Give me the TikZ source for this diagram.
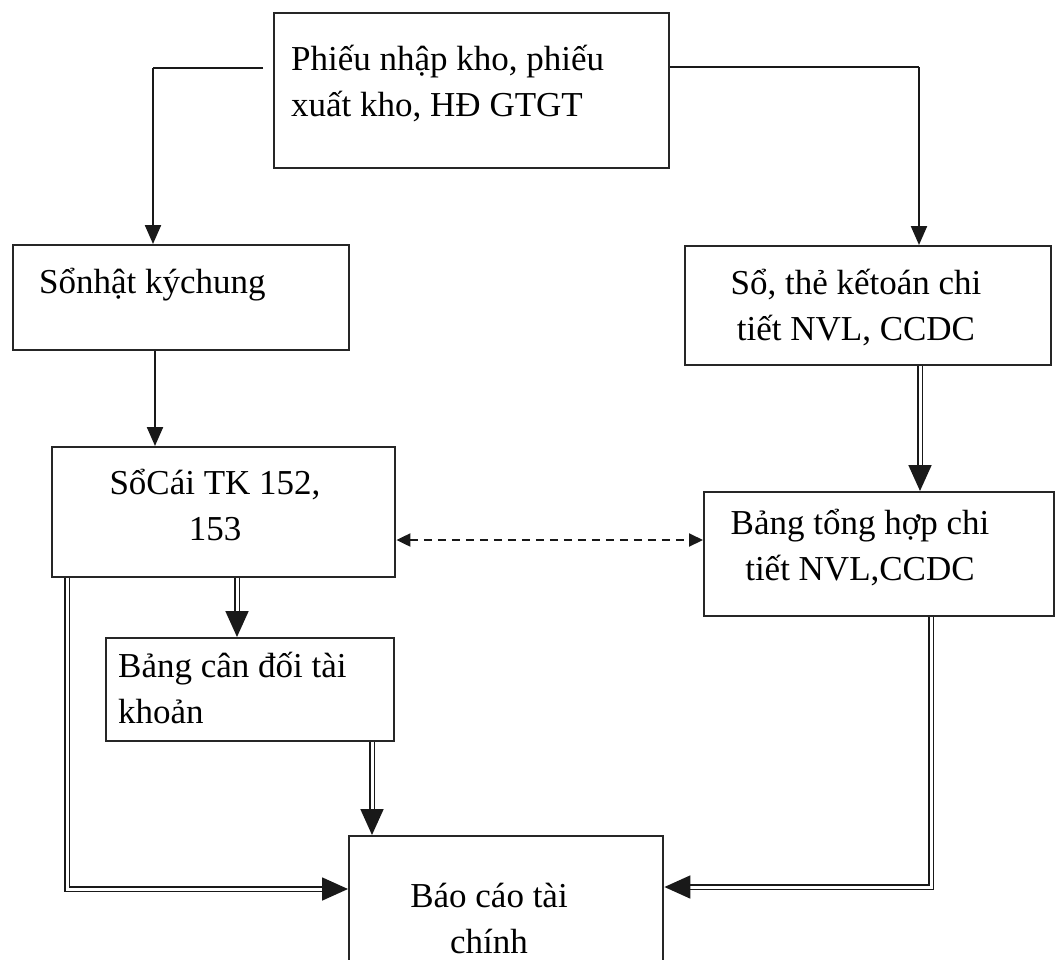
\documentclass[tikz,border=0pt]{standalone}
\usepackage{fontspec}
\setmainfont{Liberation Serif}
\usetikzlibrary{arrows.meta}
\begin{document}
\begin{tikzpicture}[x=1pt,y=-1pt,
  box/.style={draw=black!85, line width=2.4pt, inner sep=0pt, anchor=north west},
  txt/.style={font=\fontsize{35}{46}\selectfont, inner sep=0pt},
  link/.style={draw=black!90, line width=2.2pt, -{Triangle[length=19pt,width=16pt]}},
  dbl/.style={draw=black!90, double, double distance=3pt, line width=1.8pt, -{Triangle[length=26pt,width=23pt]}},
  dsh/.style={draw=black!90, line width=2pt, dash pattern=on 8pt off 6pt,
    {Triangle[length=14pt,width=13pt]}-{Triangle[length=14pt,width=13pt]}}]
\clip (0,0) rectangle (1055,959);
\fill[white] (0,0) rectangle (1055,959);

% boxes
\node[box, minimum width=395pt, minimum height=155pt] (top) at (273,12) {};
\node[box, minimum width=336pt, minimum height=105pt] (nkc) at (12,244) {};
\node[box, minimum width=366pt, minimum height=119pt] (stk) at (684,245) {};
\node[box, minimum width=343pt, minimum height=130pt] (soc) at (51,446) {};
\node[box, minimum width=350pt, minimum height=124pt] (bth) at (703,491) {};
\node[box, minimum width=288pt, minimum height=103pt] (bcd) at (105,637) {};
\node[box, minimum width=314pt, minimum height=150pt] (bct) at (348,835) {};

% texts (base anchor = baseline of the last line)
\node[txt, align=left, anchor=base west] (ttop) at (291,116) {Phiếu nhập kho, phiếu\\xuất kho, HĐ GTGT};
\node[txt, align=left, anchor=base west] (tnkc) at (39,293) {Sổnhật kýchung};
\node[txt, align=center, anchor=base] (tstk) at (856,340) {Sổ, thẻ kếtoán chi\\tiết NVL, CCDC};
\node[txt, align=center, anchor=base] (tsoc) at (215,540) {SổCái TK 152,\\153};
\node[txt, align=center, anchor=base] (tbth) at (860,580) {Bảng tổng hợp chi\\tiết NVL,CCDC};
\node[txt, align=left, anchor=base west] (tbcd) at (118,723) {Bảng cân đối tài\\khoản};
\node[txt, align=center, anchor=base] (tbct) at (489,953) {Báo cáo tài\\chính};

% bend points of the connectors
\coordinate (bendL) at (153,68);
\coordinate (bendR) at (919,67);
\coordinate (c1) at (155,0);
\coordinate (c2) at (920,0);
\coordinate (c3) at (237,0);
\coordinate (c4) at (372,0);
\coordinate (dy) at (0,540);
\coordinate (bendBL) at (67,889);
\coordinate (bendBR) at (931,887);

% connectors
\draw[link, -] ([xshift=-10pt]top.west |- bendL) -- (bendL);
\draw[link] (bendL) -- (nkc.north -| bendL);
\draw[link, -] (top.east |- bendR) -- (bendR);
\draw[link] (bendR) -- (stk.north -| bendR);
\draw[link] (nkc.south -| c1) -- (soc.north -| c1);
\draw[dbl] (stk.south -| c2) -- (bth.north -| c2);
\draw[dsh] (soc.east |- dy) -- (bth.west |- dy);
\draw[dbl] (soc.south -| c3) -- (bcd.north -| c3);
\draw[dbl] (bcd.south -| c4) -- (bct.north -| c4);
\draw[dbl] (soc.south -| bendBL) -- (bendBL) -- (bct.west |- bendBL);
\draw[dbl] (bth.south -| bendBR) -- (bendBR) -- (bct.east |- bendBR);
\end{tikzpicture}
\end{document}
